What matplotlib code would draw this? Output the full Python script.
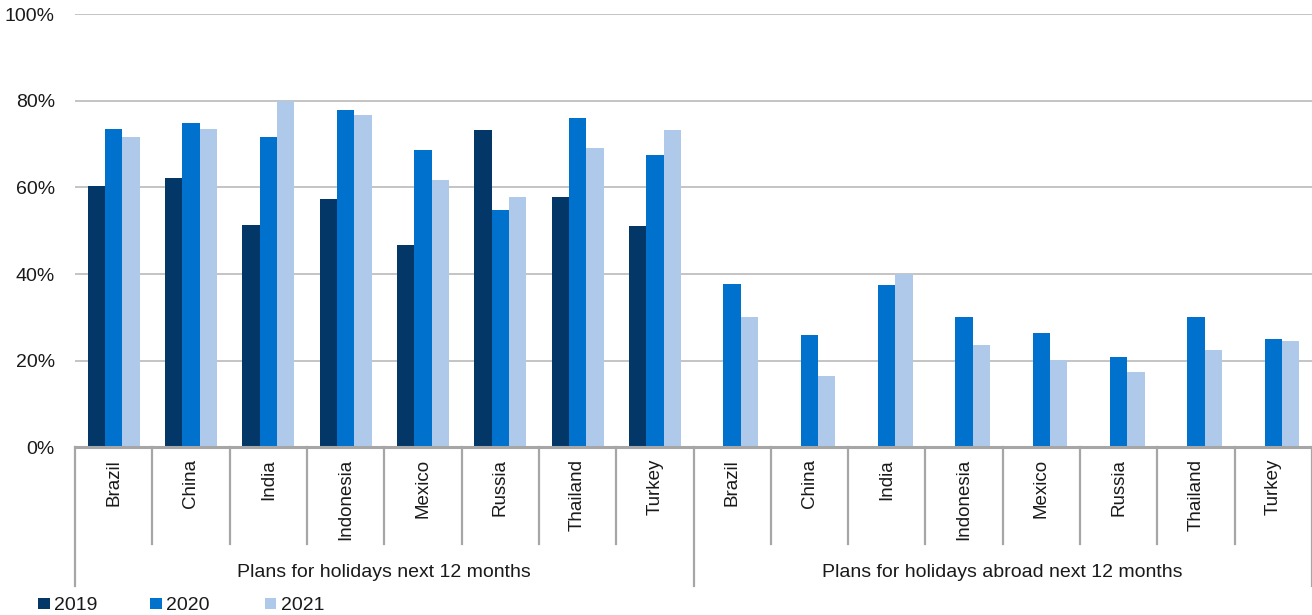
import numpy as np
import matplotlib
matplotlib.use("Agg")
import matplotlib.pyplot as plt
from matplotlib.patches import Rectangle
from matplotlib.lines import Line2D
import matplotlib.transforms as mtransforms

plt.rcParams['font.family'] = ['Liberation Sans', 'DejaVu Sans']

countries = ["Brazil", "China", "India", "Indonesia", "Mexico", "Russia", "Thailand", "Turkey"]
groups = ["Plans for holidays next 12 months", "Plans for holidays abroad next 12 months"]
years = ["2019", "2020", "2021"]

# share of respondents (%), first 8 = holidays, last 8 = holidays abroad
v2019 = [60.3, 62.3, 51.3, 57.4, 46.7, 73.3, 57.7, 51.0,
         np.nan, np.nan, np.nan, np.nan, np.nan, np.nan, np.nan, np.nan]
v2020 = [73.4, 74.9, 71.7, 77.8, 68.7, 54.9, 76.1, 67.4,
         37.6, 25.9, 37.5, 30.1, 26.4, 20.8, 30.2, 25.1]
v2021 = [71.6, 73.6, 80.0, 76.7, 61.7, 57.7, 69.1, 73.2,
         30.2, 16.4, 40.0, 23.7, 20.1, 17.4, 22.5, 24.5]

colors = ["#023767", "#0071CD", "#AFC9EA"]
grid_c = "#C4C4C4"
axis_c = "#A6A6A6"
text_c = "#1A1A1A"

W, H = 1312, 615
fig = plt.figure(figsize=(W / 100, H / 100), dpi=100)
ax = fig.add_axes([75 / W, 1 - 447.3 / H, (W - 75) / W, (447.3 - 14.3) / H])

labels = countries + countries
x = np.arange(len(labels))
bw = 0.224
for i, (vals, c) in enumerate(zip([v2019, v2020, v2021], colors)):
    vals = np.asarray(vals, dtype=float)
    m = np.isfinite(vals)
    ax.bar(x[m] + (i - 1) * bw, vals[m], width=bw, color=c, linewidth=0, zorder=3)

ax.set_xlim(-0.5, len(labels) - 0.5)
ax.set_ylim(0, 100)
ax.set_yticks(np.arange(0, 101, 20))
ax.set_yticklabels([f"{v}%" for v in range(0, 101, 20)])
ax.yaxis.grid(True, color=grid_c, linewidth=1.4, zorder=0)
ax.set_axisbelow(True)
for s in ["left", "right", "top"]:
    ax.spines[s].set_visible(False)
ax.spines["bottom"].set_color(axis_c)
ax.spines["bottom"].set_linewidth(2.2)
ax.spines["bottom"].set_zorder(4)
ax.tick_params(axis="y", length=0, pad=14.5, labelsize=14, labelcolor=text_c)

ax.set_xticks(x)
ax.set_xticklabels(labels, rotation=90, fontsize=13.5, color=text_c)
ax.tick_params(axis="x", length=0, pad=8.3)

# hierarchical category axis: separators and group captions
trans = mtransforms.blended_transform_factory(ax.transData, ax.transAxes)
ah = 433.0
for b in np.arange(-0.5, len(labels), 1.0):
    is_group = (b == -0.5) or (b == 7.5) or (b == 15.5)
    depth = 138.4 if is_group else 97.0
    ax.add_line(Line2D([b, b], [0, -depth / ah], transform=trans, color=axis_c,
                       linewidth=1.6, clip_on=False))
for gi, g in enumerate(groups):
    ax.text(3.5 + gi * 8, -(577.3 - 447.3) / ah, g, transform=trans, ha="center",
            va="baseline", fontsize=14, color=text_c)

# legend
lx = [38.1, 150.0, 264.5]
for xl, c, yr in zip(lx, colors, years):
    fig.add_artist(Rectangle((xl / W, 1 - 609 / H), 11.5 / W, 11.5 / H,
                             transform=fig.transFigure, color=c, linewidth=0))
    fig.text((xl + 16) / W, 1 - 609.5 / H, yr, ha="left", va="baseline",
             fontsize=14, color=text_c)

fig.savefig("out.png", dpi=100)
